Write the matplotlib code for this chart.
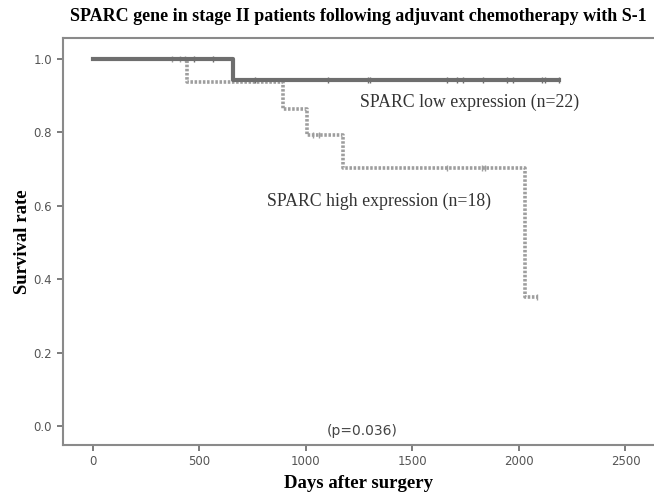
import numpy as np
import matplotlib.pyplot as plt

# Kaplan-Meier steps
low_days = [0, 660, 2188]
low_surv = [1.0, 0.944, 0.944]
low_cens_days = [475, 565, 762, 1105, 1292, 1302, 1663, 1710, 1738, 1831, 1944, 1972, 2108, 2122, 2188]
low_cens_surv = [1.0, 1.0, 0.944, 0.944, 0.944, 0.944, 0.944, 0.944, 0.944, 0.944, 0.944, 0.944, 0.944, 0.944, 0.944]

high_days = [0, 442, 893, 1006, 1173, 2029, 2085]
high_surv = [1.0, 0.9375, 0.864, 0.792, 0.704, 0.352, 0.352]
high_cens_days = [373, 410, 434, 1035, 1060, 1663, 1827, 1841, 2085]
high_cens_surv = [1.0, 1.0, 1.0, 0.792, 0.792, 0.704, 0.704, 0.704, 0.352]

xticks = [0, 500, 1000, 1500, 2000, 2500]
yticks = [0.0, 0.2, 0.4, 0.6, 0.8, 1.0]

serif = 'Liberation Serif'

fig = plt.figure(figsize=(6.54, 4.95), dpi=100)
ax = fig.add_axes([0.0956, 0.101, 0.9044, 0.822])

ax.step(high_days, high_surv, where='post', color='#9e9e9e', lw=2.6,
        linestyle=(0, (0.7, 0.45)))
ax.plot(high_cens_days, high_cens_surv, '|', color='#9e9e9e', ms=5, mew=1)
ax.step(low_days, low_surv, where='post', color='#6e6e6e', lw=3)
ax.plot(low_cens_days, low_cens_surv, '|', color='#6e6e6e', ms=5, mew=1)

ax.set_xlim(-141, 2634)
ax.set_ylim(-0.052, 1.057)
ax.set_xticks(xticks)
ax.set_yticks(yticks)
ax.set_yticklabels(['%.1f' % v for v in yticks])

for s in ['top', 'left', 'bottom']:
    ax.spines[s].set_color('#8a8a8a')
    ax.spines[s].set_linewidth(1.5)
ax.spines['right'].set_visible(False)
ax.tick_params(direction='out', length=4, width=1.2, color='#666666',
               labelcolor='#555555', labelsize=8.5)

ax.text(1771, 0.882, 'SPARC low expression (n=22)', ha='center', va='center',
        fontsize=12.8, family=serif, color='#333333')
ax.text(1345, 0.612, 'SPARC high expression (n=18)', ha='center', va='center',
        fontsize=12.8, family=serif, color='#333333')
ax.text(1265, -0.015, '(p=0.036)', ha='center', va='center', fontsize=10,
        color='#444444')

ax.set_xlabel('Days after surgery', fontsize=13.5, family=serif, fontweight='bold', labelpad=5)
ax.set_ylabel('Survival rate', fontsize=13.5, family=serif, fontweight='bold', labelpad=2)
ax.set_title('SPARC gene in stage II patients following adjuvant chemotherapy with S-1',
             fontsize=13, family=serif, fontweight='bold', pad=12)

plt.savefig('out.png', dpi=100)
